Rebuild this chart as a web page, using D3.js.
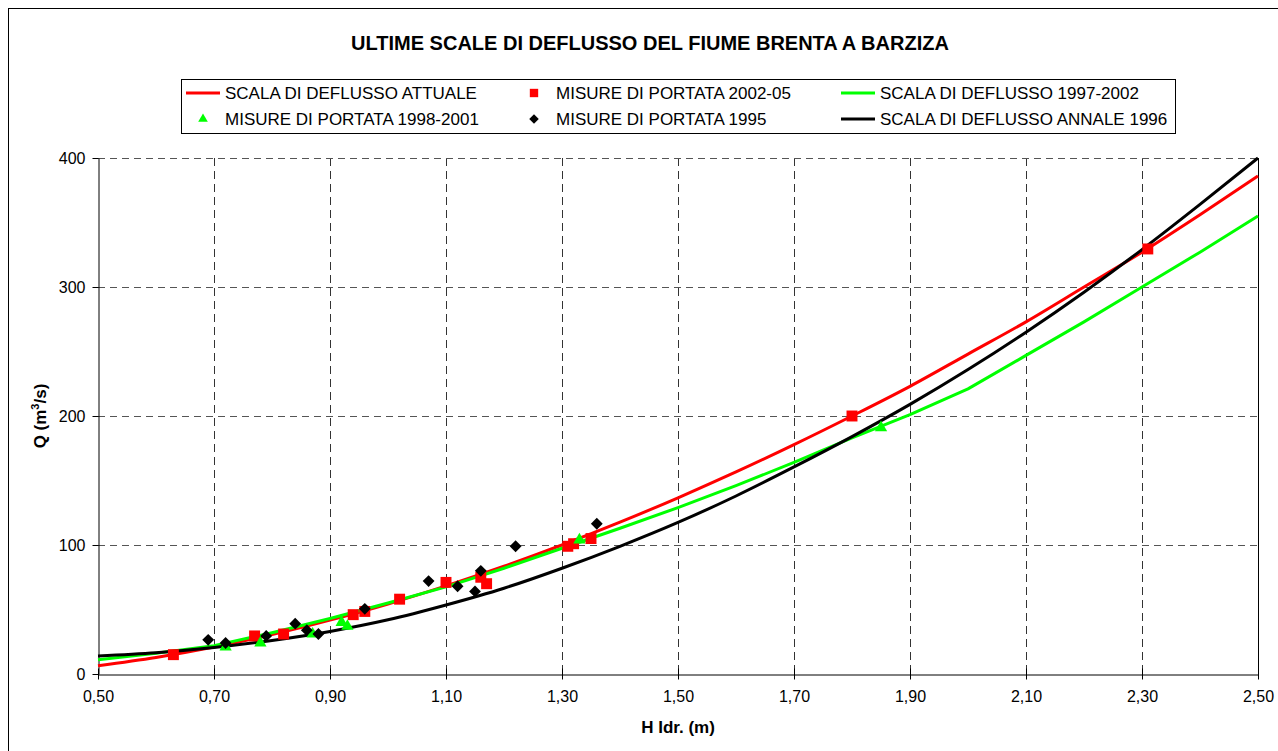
<!DOCTYPE html>
<html>
<head>
<meta charset="utf-8">
<script src="https://cdn.jsdelivr.net/npm/d3@7"></script>
<style>
  body { margin: 0; background: #fff; }
  text { font-family: Arial, "Liberation Sans", sans-serif; fill: #000; }
</style>
</head>
<body>
<svg width="1278" height="751"></svg>
<script>
var curveH = [0.5, 0.6, 0.7, 0.8, 0.9, 1.0, 1.1, 1.2, 1.3, 1.4, 1.5,
              1.6, 1.7, 1.8, 1.9, 2.0, 2.1, 2.2, 2.3, 2.4, 2.5];
// discharge (m3/s) of each curve at those stages
var qAttuale    = [6.4, 12.8, 20.9, 30.6, 41.8, 54.3, 68.3, 83.5, 100, 117.7, 136.6,
                   156.6, 177.8, 200, 223, 248, 273, 300, 327, 356, 386];
var q1997_2002  = [11, 16, 22, 32, 43, 55, 67.5, 82, 97.5, 113, 129,
                   146, 164, 183, 201, 221, 247, 273, 300, 327, 355];
var qAnnale1996 = [14, 16.5, 20.5, 26, 33, 42, 53.5, 66.5, 82, 99, 117.5,
                   138, 160.5, 184, 209, 236, 265, 296, 329, 364, 400];

// measurements
var mis2002H = [0.63, 0.77, 0.82, 0.94, 0.96, 1.02, 1.10, 1.16, 1.17, 1.31, 1.32, 1.35, 1.80, 2.31];
var mis2002Q = [15, 29.5, 31, 46, 48.5, 58, 71, 75, 70, 99, 101, 105, 200, 329.5];

var mis1998H = [0.72, 0.78, 0.87, 0.92, 0.93, 1.33, 1.85];
var mis1998Q = [21, 24, 31, 40, 37, 104, 191];

var mis1995H = [0.69, 0.72, 0.79, 0.84, 0.86, 0.88, 0.96, 1.07, 1.12, 1.15, 1.16, 1.22, 1.36];
var mis1995Q = [26.5, 24, 29.5, 39, 34, 31, 50.5, 72, 68, 64, 80, 99, 116.5];

var xTicks = [0.5, 0.7, 0.9, 1.1, 1.3, 1.5, 1.7, 1.9, 2.1, 2.3, 2.5];
var yTicks = [0, 100, 200, 300, 400];

var svg = d3.select("svg");

// chart frame
svg.append("rect")
  .attr("x", 8.5).attr("y", 8.5)
  .attr("width", 1300).attr("height", 800)
  .attr("fill", "none").attr("stroke", "#000").attr("stroke-width", 1);

var x = d3.scaleLinear().domain([0.5, 2.5]).range([98, 1258]);
var y = d3.scaleLinear().domain([0, 400]).range([674, 158]);

var fmt = function(d) { return d3.format(".2f")(d).replace(".", ","); };

// grid lines
svg.append("g").selectAll("line")
  .data(xTicks.slice(1, -1))
  .enter().append("line")
  .attr("x1", function(d) { return Math.round(x(d)) + 0.5; })
  .attr("x2", function(d) { return Math.round(x(d)) + 0.5; })
  .attr("y1", y(400)).attr("y2", y(0))
  .attr("stroke", "#333").attr("stroke-dasharray", "8,5");

svg.append("g").selectAll("line")
  .data(yTicks.slice(1))
  .enter().append("line")
  .attr("x1", x(0.5)).attr("x2", x(2.5))
  .attr("y1", function(d) { return Math.round(y(d)) + 0.5; })
  .attr("y2", function(d) { return Math.round(y(d)) + 0.5; })
  .attr("stroke", "#555").attr("stroke-dasharray", "7,5");

// right edge of plot area
svg.append("line")
  .attr("x1", x(2.5) + 0.5).attr("x2", x(2.5) + 0.5)
  .attr("y1", y(400)).attr("y2", y(0))
  .attr("stroke", "#000");

// axes
var xAxis = svg.append("g")
  .attr("transform", "translate(0," + (y(0) + 0.5) + ")")
  .call(d3.axisBottom(x).tickValues(xTicks).tickFormat(fmt).tickSizeInner(5).tickSizeOuter(0).tickPadding(11));
xAxis.selectAll(".tick line").attr("y1", -6);
xAxis.selectAll("text").style("font-size", "16px");
xAxis.select(".domain").attr("stroke", "#000");

var yAxis = svg.append("g")
  .attr("transform", "translate(" + (x(0.5) + 0.5) + ",0)")
  .call(d3.axisLeft(y).tickValues(yTicks).tickSizeInner(6).tickSizeOuter(0).tickPadding(7));
yAxis.selectAll("text").style("font-size", "16px");

// curves
var line = d3.line()
  .x(function(d) { return x(d[0]); })
  .y(function(d) { return y(d[1]); });

var curves = [
  { q: qAttuale, color: "#ff0000", smooth: true },
  { q: q1997_2002, color: "#00ff00", smooth: false },
  { q: qAnnale1996, color: "#000000", smooth: true }
];

curves.forEach(function(c) {
  svg.append("path")
    .datum(d3.zip(curveH, c.q))
    .attr("d", line.curve(c.smooth ? d3.curveMonotoneX : d3.curveLinear))
    .attr("fill", "none")
    .attr("stroke", c.color)
    .attr("stroke-width", 3)
    .attr("stroke-linejoin", "round");
});

// markers
var sq = d3.symbol().type(d3.symbolSquare).size(120);
var tri = d3.symbol().type(d3.symbolTriangle).size(65);
var dia = d3.symbol().type(d3.symbolSquare).size(70);

svg.append("g").selectAll("path")
  .data(d3.zip(mis2002H, mis2002Q))
  .enter().append("path")
  .attr("d", sq)
  .attr("transform", function(d) { return "translate(" + x(d[0]) + "," + y(d[1]) + ")"; })
  .attr("fill", "#ff0000");

svg.append("g").selectAll("path")
  .data(d3.zip(mis1998H, mis1998Q))
  .enter().append("path")
  .attr("d", tri)
  .attr("transform", function(d) { return "translate(" + x(d[0]) + "," + y(d[1]) + ")"; })
  .attr("fill", "#00ff00");

svg.append("g").selectAll("path")
  .data(d3.zip(mis1995H, mis1995Q))
  .enter().append("path")
  .attr("d", dia)
  .attr("transform", function(d) { return "translate(" + x(d[0]) + "," + y(d[1]) + ") rotate(45)"; })
  .attr("fill", "#000");

// title
svg.append("text")
  .attr("x", 650).attr("y", 50)
  .attr("text-anchor", "middle")
  .style("font-size", "20px").style("font-weight", "bold")
  .text("ULTIME SCALE DI DEFLUSSO DEL FIUME BRENTA A BARZIZA");

// axis titles
svg.append("text")
  .attr("x", 678).attr("y", 733)
  .attr("text-anchor", "middle")
  .style("font-size", "17px").style("font-weight", "bold")
  .text("H Idr. (m)");

var yt = svg.append("text")
  .attr("transform", "translate(46,416) rotate(-90)")
  .attr("text-anchor", "middle")
  .style("font-size", "17px").style("font-weight", "bold");
yt.append("tspan").text("Q (m");
yt.append("tspan").attr("dy", -7).style("font-size", "11px").text("3");
yt.append("tspan").attr("dy", 7).text("/s)");

// legend
var legend = svg.append("g");
legend.append("rect")
  .attr("x", 181.5).attr("y", 79.5)
  .attr("width", 994).attr("height", 54)
  .attr("fill", "#fff").attr("stroke", "#000");

var legendItems = [
  { label: "SCALA DI DEFLUSSO ATTUALE", kind: "line", color: "#ff0000", col: 0, row: 0 },
  { label: "MISURE DI PORTATA 2002-05", kind: "square", color: "#ff0000", col: 1, row: 0 },
  { label: "SCALA DI DEFLUSSO 1997-2002", kind: "line", color: "#00ff00", col: 2, row: 0 },
  { label: "MISURE DI PORTATA 1998-2001", kind: "triangle", color: "#00ff00", col: 0, row: 1 },
  { label: "MISURE DI PORTATA 1995", kind: "diamond", color: "#000", col: 1, row: 1 },
  { label: "SCALA DI DEFLUSSO ANNALE 1996", kind: "line", color: "#000", col: 2, row: 1 }
];
var colX = [186, 517, 841];

legendItems.forEach(function(it) {
  var lx = colX[it.col], ly = 93 + it.row * 26;
  var g = legend.append("g").attr("transform", "translate(" + lx + "," + ly + ")");
  if (it.kind === "line") {
    g.append("line").attr("x1", 0).attr("x2", 34).attr("y1", 0).attr("y2", 0)
      .attr("stroke", it.color).attr("stroke-width", 3);
  } else {
    var shape = it.kind === "square" ? d3.symbol().type(d3.symbolSquare).size(70)
      : it.kind === "triangle" ? d3.symbol().type(d3.symbolTriangle).size(40)
      : d3.symbol().type(d3.symbolSquare).size(45);
    g.append("path").attr("d", shape)
      .attr("transform", "translate(17,0)" + (it.kind === "diamond" ? " rotate(45)" : ""))
      .attr("fill", it.color);
  }
  g.append("text").attr("x", 39).attr("y", 6)
    .style("font-size", "17px")
    .text(it.label);
});
</script>
</body>
</html>
